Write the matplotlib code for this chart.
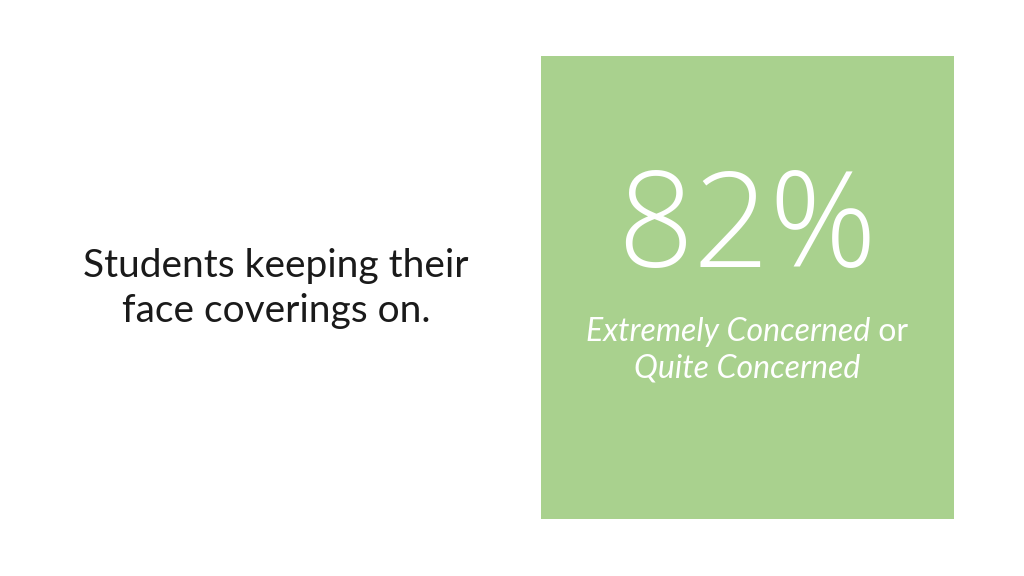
import matplotlib
matplotlib.use("Agg")
import matplotlib.pyplot as plt
from matplotlib.patches import Rectangle

title_lines = ["Students keeping their", "face coverings on."]
percent_value = [82]
caption_italic_1 = "Extremely Concerned"
caption_plain_1 = " or"
caption_italic_2 = "Quite Concerned"

W, H = 1024, 576
fig = plt.figure(figsize=(W / 100, H / 100), dpi=100)
ax = fig.add_axes([0, 0, 1, 1])
ax.set_xlim(0, W)
ax.set_ylim(H, 0)
ax.axis("off")
fig.patch.set_facecolor("white")

font = ["Lato", "DejaVu Sans"]

ax.add_patch(Rectangle((541, 56), 413, 463, facecolor="#A9D18E", edgecolor="none"))

ax.text(276, 266, title_lines[0], ha="center", va="center", fontsize=28,
        family=font, color="#1a1a1a")
ax.text(276, 311, title_lines[1], ha="center", va="center", fontsize=28,
        family=font, color="#1a1a1a")

ax.text(747, 233, f"{percent_value[0]}%", ha="center", va="center", fontsize=96,
        family=["Open Sans", "DejaVu Sans"], weight="light", color="white")

t1 = ax.text(0, 332, caption_italic_1, ha="left", va="center", fontsize=23,
             family=font, style="italic", color="white")
t2 = ax.text(0, 332, caption_plain_1, ha="left", va="center", fontsize=23,
             family=font, color="white")
fig.canvas.draw()
r = fig.canvas.get_renderer()
w1 = t1.get_window_extent(r).width
w2 = t2.get_window_extent(r).width
start = 747 - (w1 + w2) / 2
t1.set_x(start)
t2.set_x(start + w1)

ax.text(747, 369, caption_italic_2, ha="center", va="center", fontsize=23,
        family=font, style="italic", color="white")

fig.savefig("out.png", dpi=100)
